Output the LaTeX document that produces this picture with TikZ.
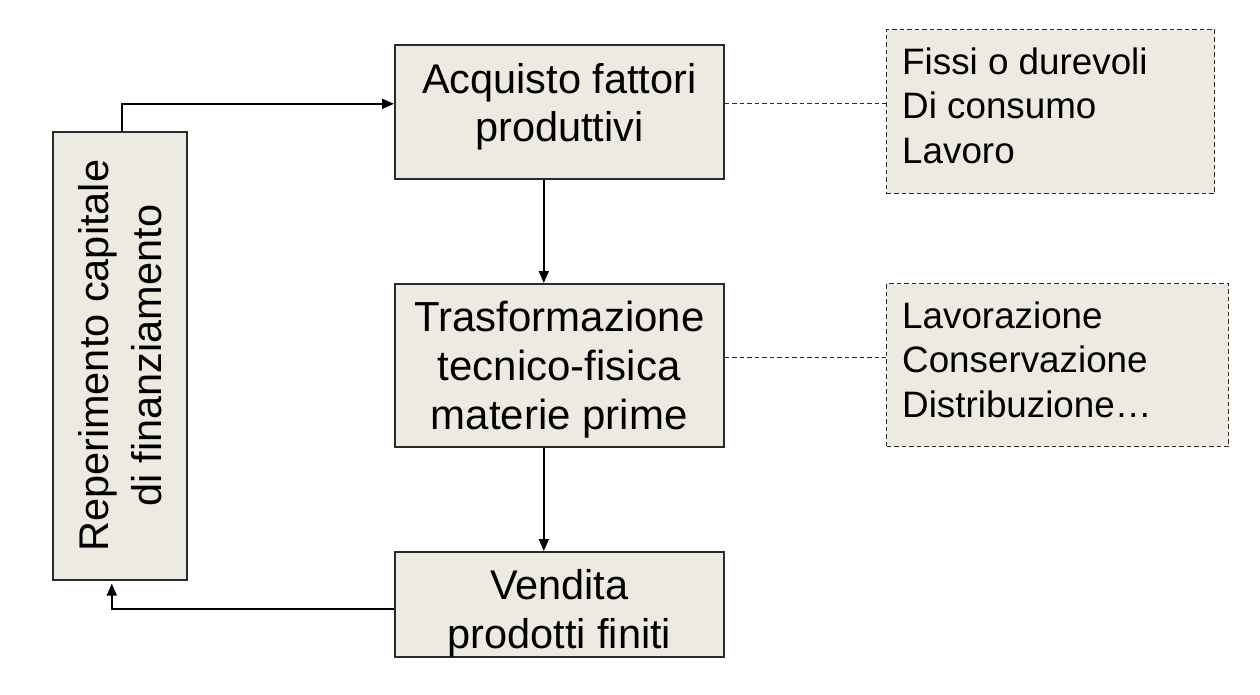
\documentclass[tikz,border=0pt]{standalone}
\usepackage{fontspec}
\setmainfont{Liberation Sans}
\usetikzlibrary{arrows.meta}
\definecolor{boxfill}{HTML}{EDEBE1}
\definecolor{boxline}{HTML}{2A2A2A}
\tikzset{
  solidbox/.style={draw=boxline, fill=boxfill, line width=1.6pt, rectangle, inner sep=0pt, anchor=north west},
  dashbox/.style={draw=boxline, fill=boxfill, line width=1.2pt, dash pattern=on 4.5pt off 3pt, rectangle, inner sep=0pt, anchor=north west},
  maintext/.style={inner sep=0pt, align=center, font=\fontsize{41.5}{48}\selectfont},
  sidetext/.style={inner sep=0pt, align=left, anchor=west, font=\fontsize{36.8}{44.5}\selectfont},
  arr/.style={line width=1.7pt, draw=black, -{Triangle[length=12pt,width=10pt]}},
  dashlink/.style={line width=1.2pt, draw=boxline, dash pattern=on 4.5pt off 3pt}
}
\begin{document}
\begin{tikzpicture}[x=1pt,y=-1pt]
\useasboundingbox (0,0) rectangle (1260,694);
% boxes
\node[solidbox, minimum width=134pt, minimum height=448pt] (fin) at (52,131) {};
\node[solidbox, minimum width=329pt, minimum height=134pt] (acq) at (394,44) {};
\node[solidbox, minimum width=329pt, minimum height=163pt] (tra) at (394,283) {};
\node[solidbox, minimum width=329pt, minimum height=105pt] (ven) at (394,551) {};
\node[dashbox, minimum width=328pt, minimum height=164pt] (d1) at (886,29) {};
\node[dashbox, minimum width=342pt, minimum height=163pt] (d2) at (886,283) {};
% texts
\node[maintext, rotate=90, font=\fontsize{41.5}{53}\selectfont] (fint) at (fin.center) {Reperimento capitale\\di finanziamento};
\node[maintext] (acqt) at ([yshift=5pt]acq.center) {Acquisto fattori\\produttivi};
\node[maintext, font=\fontsize{42}{49}\selectfont] (trat) at ([yshift=-4.5pt]tra.center) {Trasformazione\\tecnico-fisica\\materie prime};
\node[maintext, font=\fontsize{41.5}{49}\selectfont] (vent) at ([yshift=-8.5pt]ven.center) {Vendita\\prodotti finiti};
\node[sidetext] (d1t) at ([xshift=16pt,yshift=6pt]d1.west) {Fissi o durevoli\\Di consumo\\Lavoro};
\node[sidetext] (d2t) at ([xshift=16pt,yshift=5.6pt]d2.west) {Lavorazione\\Conservazione\\Distribuzione…};
% connectors
\draw[arr] ([xshift=2pt]fin.north) |- ([yshift=8pt]acq.west);
\draw[arr] ([xshift=-15.5pt]acq.south) -- ([xshift=-15.5pt]tra.north);
\draw[arr] ([xshift=-15.5pt]tra.south) -- ([xshift=-15.5pt]ven.north);
\draw[arr] ([yshift=-4.5pt]ven.west) -| ([xshift=-8pt,yshift=-3pt]fin.south);
\draw[dashlink] ([yshift=8pt]acq.east) -- ([yshift=8pt]acq.east -| d1.west);
\draw[dashlink] ([yshift=7.5pt]tra.east) -- ([yshift=7.5pt]tra.east -| d2.west);
\end{tikzpicture}
\end{document}
